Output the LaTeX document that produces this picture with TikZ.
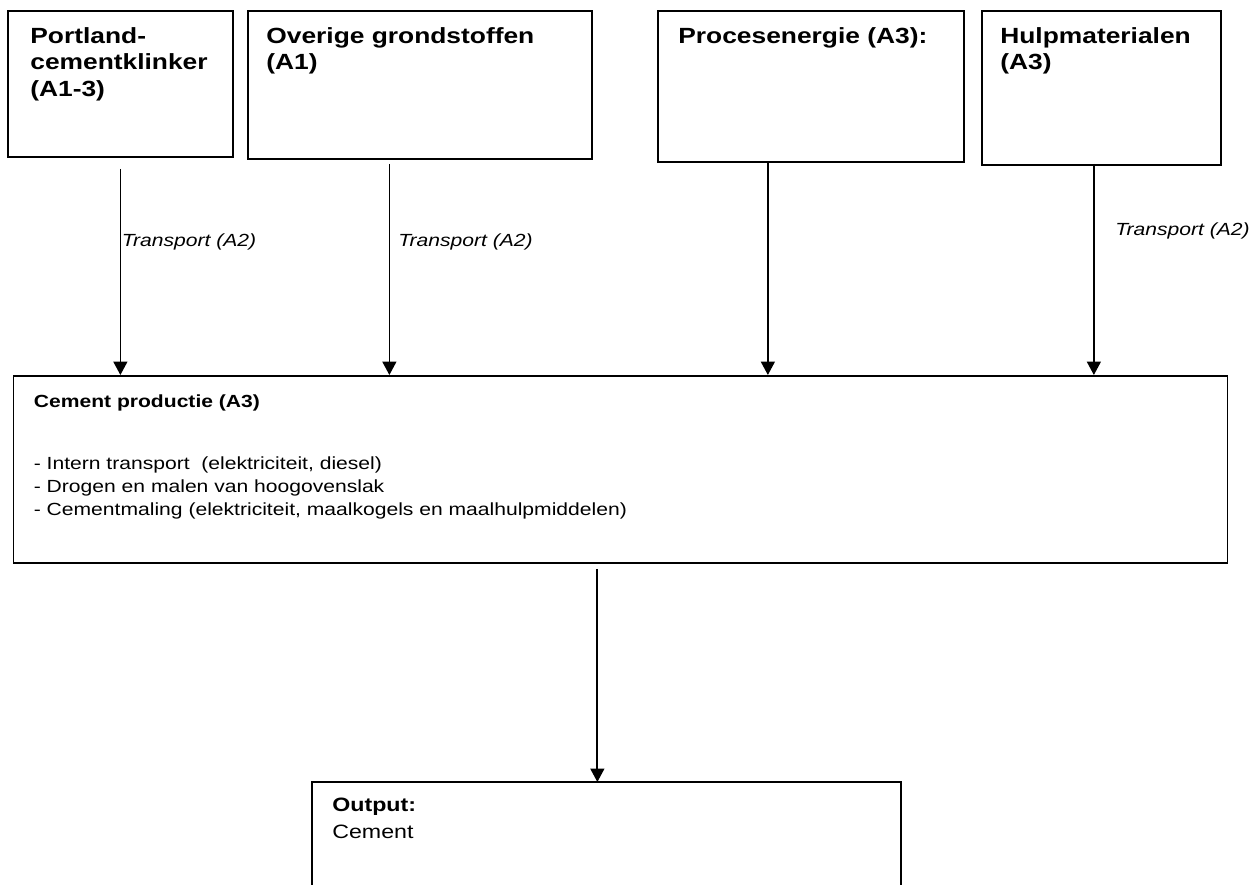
\documentclass[tikz,border=0pt]{standalone}
\usepackage{fontspec}
\setmainfont{Liberation Sans}[FakeStretch=1.2]
\usetikzlibrary{arrows.meta,positioning}

\tikzset{
  box/.style={draw, line width=1pt, rectangle, anchor=north west, inner sep=0pt},
  boxtitle/.style={anchor=north west, inner sep=0pt, align=left, font=\fontsize{12.5}{15.2}\selectfont\bfseries},
  flow/.style={line width=1pt, -{Triangle[length=0.27cm,width=0.28cm]}},
  trans/.style={anchor=west, inner sep=0pt, font=\fontsize{10}{12}\selectfont\itshape}
}

\begin{document}
\begin{tikzpicture}
    \useasboundingbox (0, 0) rectangle (25.08, -17.7);

    % Input boxes
    \node[box, minimum width=4.5cm, minimum height=2.92cm] (klinker) at (0.14, -0.2) {};
    \node[box, minimum width=6.88cm, minimum height=2.96cm] (grond) at (4.94, -0.2) {};
    \node[box, minimum width=6.12cm, minimum height=3.02cm] (energie) at (13.14, -0.2) {};
    \node[box, minimum width=4.78cm, minimum height=3.08cm] (hulp) at (19.62, -0.2) {};

    \node[boxtitle] (klinkertxt) at (0.6, -0.54) {Portland-\\cementklinker\\(A1-3)};
    \node[boxtitle] (grondtxt) at (5.32, -0.54) {Overige grondstoffen\\(A1)};
    \node[boxtitle] (energietxt) at (13.56, -0.54) {Procesenergie (A3):};
    \node[boxtitle] (hulptxt) at (20.0, -0.54) {Hulpmaterialen\\(A3)};

    % Production
    \node[box, minimum width=24.28cm, minimum height=3.74cm] (prod) at (0.25, -7.5) {};
    \node[anchor=north west, inner sep=0pt, font=\fontsize{10}{12}\selectfont\bfseries] (prodtxt) at (0.67, -7.88) {Cement productie (A3)};
    \node[anchor=north west, inner sep=0pt, align=left, font=\fontsize{10}{13.2}\selectfont] (stappen) at (0.67, -9.12)
      {- Intern transport\ \ (elektriciteit, diesel)\\
       - Drogen en malen van hoogovenslak\\
       - Cementmaling (elektriciteit, maalkogels en maalhulpmiddelen)};

    % Transport
    \draw[flow] ([yshift=-0.22cm]klinker.south) -- (klinker.south |- prod.north);
    \draw[flow] ([xshift=-0.61cm, yshift=-0.08cm]grond.south) -- ([xshift=-0.61cm]grond.south |- prod.north);
    \draw[flow] ([xshift=-0.86cm]energie.south) -- ([xshift=-0.86cm]energie.south |- prod.north);
    \draw[flow] ([xshift=-0.15cm, yshift=0.04cm]hulp.south) -- ([xshift=-0.15cm]hulp.south |- prod.north);

    \node[trans] (t1) at (2.43, -4.83) {Transport (A2)};
    \node[trans] (t2) at (7.96, -4.83) {Transport (A2)};
    \node[trans] (t3) at (22.3, -4.62) {Transport (A2)};

    % Output
    \node[minimum width=11.76cm, minimum height=2.3cm, anchor=north west, inner sep=0pt] (out) at (6.24, -15.64) {};
    \draw[line width=1pt] (out.south west) |- (out.north east) -- (out.south east);
    \draw[flow] ([xshift=-0.18cm]out.north |- prod.south) ++(0, -0.1) -- ([xshift=-0.18cm]out.north);
    \node[anchor=north west, inner sep=0pt, align=left, font=\fontsize{11}{15.5}\selectfont] (outtxt) at (6.64, -15.95) {\textbf{Output:}\\Cement};
\end{tikzpicture}
\end{document}
